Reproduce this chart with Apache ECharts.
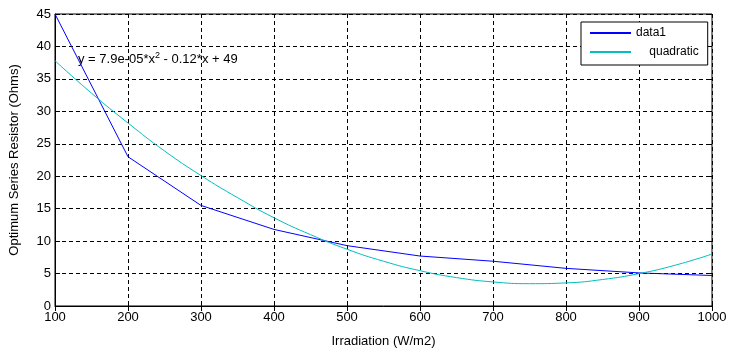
<!DOCTYPE html>
<html>
<head>
<meta charset="utf-8">
<script src="https://cdn.jsdelivr.net/npm/echarts@6/dist/echarts.min.js"></script>
<style>
  html, body { margin: 0; padding: 0; background: #fff; }
  #main { width: 732px; height: 353px; }
</style>
</head>
<body>
<div id="main"></div>
<script>
// measured points
const irradiation = [100, 200, 300, 400, 500, 600, 700, 800, 900, 1000];
const resistor = [45, 23, 15.5, 11.8, 9.3, 7.7, 6.9, 5.8, 5.1, 4.7];

// quadratic fit, every 50 W/m2
const fitX = [100, 150, 200, 250, 300, 350, 400, 450, 500, 550, 600, 650, 700, 750, 800, 850, 900, 950, 1000];
const fitY = [37.8, 32.8, 28.2, 23.9, 20.1, 16.7, 13.6, 11.0, 8.75, 6.9, 5.44, 4.38, 3.71, 3.44, 3.56, 4.08, 4.99, 6.3, 8.0];

const fitLabel = "y = 7.9e-05*x{sup|2} - 0.12*x + 49";

const font = "Liberation Sans, Arial, sans-serif";
const dotted = [4, 3];

const chart = echarts.init(document.getElementById("main"));

chart.setOption({
  backgroundColor: "#fff",
  animation: false,
  textStyle: { fontFamily: font },
  grid: {
    left: 45, right: 20, top: 14, bottom: 42,
    show: true, borderColor: "#000", borderWidth: 1,
  },
  legend: {
    orient: "vertical",
    left: 581, top: 22,
    backgroundColor: "#fff",
    borderColor: "#000",
    borderWidth: 1,
    padding: [5, 9, 7, 8],
    itemGap: 7,
    itemWidth: 41,
    itemHeight: 12,
    itemStyle: { opacity: 0 },
    textStyle: { fontSize: 12, color: "#000", fontFamily: font },
    formatter: (n) => (n === "quadratic" ? "    quadratic" : n),
    data: ["data1", "quadratic"],
  },
  xAxis: [
    {
      type: "value",
      min: 100, max: 1000, interval: 100,
      name: "Irradiation (W/m2)",
      nameLocation: "middle",
      nameGap: 29,
      nameTextStyle: { fontSize: 13, color: "#000" },
      axisLine: { lineStyle: { color: "#000" } },
      axisTick: { inside: true, length: 5, lineStyle: { color: "#000" } },
      axisLabel: { fontSize: 13, color: "#000", margin: 5, formatter: (v) => String(v) },
      splitLine: { show: true, lineStyle: { color: "#000", type: dotted } },
    },
    {
      type: "value", position: "top",
      min: 100, max: 1000, interval: 100,
      axisLine: { show: false },
      axisTick: { inside: true, length: 5, lineStyle: { color: "#000" } },
      axisLabel: { show: false },
      splitLine: { show: false },
    },
  ],
  yAxis: [
    {
      type: "value",
      min: 0, max: 45, interval: 5,
      name: "Optimum Series Resistor (Ohms)",
      nameLocation: "middle",
      nameGap: 34,
      nameTextStyle: { fontSize: 13, color: "#000" },
      axisLine: { show: true, lineStyle: { color: "#000" } },
      axisTick: { show: true, inside: true, length: 5, lineStyle: { color: "#000" } },
      axisLabel: { fontSize: 13, color: "#000", margin: 4 },
      splitLine: { show: true, lineStyle: { color: "#000", type: dotted } },
    },
    {
      type: "value", position: "right",
      min: 0, max: 45, interval: 5,
      axisLine: { show: false },
      axisTick: { show: true, inside: true, length: 5, lineStyle: { color: "#000" } },
      axisLabel: { show: false },
      splitLine: { show: false },
    },
  ],
  graphic: [
    {
      type: "text",
      left: 78, top: 51,
      style: {
        text: fitLabel,
        fill: "#000",
        font: "13px " + font,
        rich: {
          sup: { fontSize: 9, verticalAlign: "top", padding: [0, 0, 8, 0], fill: "#000" },
        },
      },
    },
  ],
  series: [
    {
      name: "data1",
      type: "line",
      symbol: "none",
      data: irradiation.map((x, i) => [x, resistor[i]]),
      lineStyle: { color: "#0000ff", width: 1 },
      itemStyle: { color: "#0000ff" },
    },
    {
      name: "quadratic",
      type: "line",
      symbol: "none",
      smooth: true,
      data: fitX.map((x, i) => [x, fitY[i]]),
      lineStyle: { color: "#00bfbf", width: 1 },
      itemStyle: { color: "#00bfbf" },
    },
  ],
});
</script>
</body>
</html>
